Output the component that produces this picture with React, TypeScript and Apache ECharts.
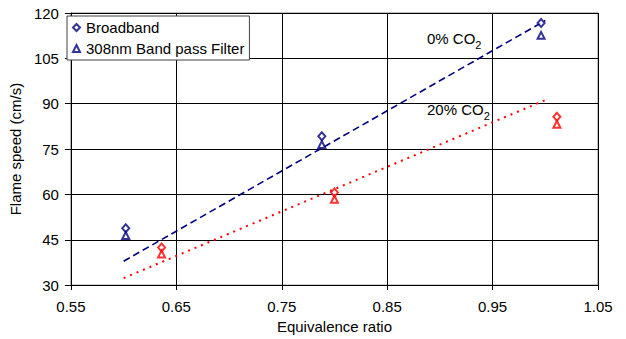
import React, { useEffect, useRef } from "react";
import * as echarts from "echarts";

const xTickLabels = ["0.55", "0.65", "0.75", "0.85", "0.95", "1.05"];
const yTickLabels = ["30", "45", "60", "75", "90", "105", "120"];

const phi0 = [0.602, 0.788, 0.996];
const broadband0 = [48.8, 79.2, 116.7];
const filter0 = [46.4, 76.5, 112.6];

const phi20 = [0.636, 0.8, 1.011];
const broadband20 = [42.4, 60.6, 85.7];
const filter20 = [40.3, 58.4, 83.2];

const trendX = [0.6, 1.0];
const trend0 = [37.9, 117.5];
const trend20 = [32.3, 91.2];

const NAVY = "#000080";
const RED = "#ff0000";
const FONT = "'Liberation Sans', Arial, sans-serif";

const pairs = (xs: number[], ys: number[]) => xs.map((x, i) => [x, ys[i]]);

export default function App() {
  const ref = useRef<HTMLDivElement>(null);
  useEffect(() => {
    document.body.style.margin = "0";
    const chart = echarts.init(ref.current!, null, { renderer: "svg" });
    const xMin = Number(xTickLabels[0]);
    const xMax = Number(xTickLabels[xTickLabels.length - 1]);
    const yMin = Number(yTickLabels[0]);
    const yMax = Number(yTickLabels[yTickLabels.length - 1]);
    const scatter = (name: string, xs: number[], ys: number[], symbol: string, color: string, size: number[]) => ({
      name,
      type: "scatter",
      data: pairs(xs, ys),
      symbol,
      symbolSize: size,
      itemStyle: { color, borderColor: color, borderWidth: 1 },
      z: 5,
    });
    const rich = {
      a: { fontSize: 15, lineHeight: 18, verticalAlign: "top", fill: "#000", fontFamily: FONT },
      s: { fontSize: 11, lineHeight: 12, padding: [8, 0, 0, 0], verticalAlign: "top", fill: "#000", fontFamily: FONT },
    };
    chart.setOption({
      animation: false,
      textStyle: { fontFamily: FONT },
      grid: {
        left: 65,
        right: 28,
        top: 13,
        bottom: 48,
        show: true,
        borderColor: "#808080",
        borderWidth: 1,
        backgroundColor: "transparent",
      },
      xAxis: {
        type: "value",
        min: xMin,
        max: xMax,
        interval: 0.1,
        name: "Equivalence ratio",
        nameLocation: "middle",
        nameGap: 28,
        nameTextStyle: { fontSize: 15, color: "#000", fontFamily: FONT },
        axisLine: { show: true, lineStyle: { color: "#000", width: 1 } },
        axisTick: { show: true, length: 5, lineStyle: { color: "#000" } },
        axisLabel: {
          fontSize: 15,
          color: "#000",
          margin: 14,
          fontFamily: FONT,
          formatter: (v: number) => v.toFixed(2),
        },
        splitLine: { show: true, lineStyle: { color: "#000", width: 1 } },
      },
      yAxis: {
        type: "value",
        min: yMin,
        max: yMax,
        interval: 15,
        name: "Flame speed (cm/s)",
        nameLocation: "middle",
        nameGap: 29,
        nameTextStyle: { fontSize: 15, color: "#000", fontFamily: FONT },
        axisLine: { show: true, lineStyle: { color: "#000", width: 1 } },
        axisTick: { show: true, length: 6, lineStyle: { color: "#000" } },
        axisLabel: { fontSize: 15, color: "#000", margin: 12, fontFamily: FONT },
        splitLine: { show: true, lineStyle: { color: "#000", width: 1 } },
      },
      legend: {
        orient: "vertical",
        left: 67,
        top: 16,
        data: ["Broadband", "308nm Band pass Filter"],
        backgroundColor: "#fff",
        borderColor: "#404040",
        borderWidth: 1,
        borderRadius: 0,
        padding: [4, 5, 4, 5],
        itemWidth: 7,
        itemHeight: 7,
        itemGap: 6,
        textStyle: { fontSize: 15, color: "#000", fontFamily: FONT, padding: [0, 0, 0, 1] },
      },
      graphic: [
        { type: "text", left: 427, top: 31, z: 10, style: { text: "{a|0% CO}{s|2}", rich } },
        { type: "text", left: 427, top: 102, z: 10, style: { text: "{a|20% CO}{s|2}", rich } },
      ],
      series: [
        {
          name: "Trend 0% CO2",
          type: "line",
          data: pairs(trendX, trend0),
          showSymbol: false,
          symbol: "none",
          lineStyle: { color: NAVY, width: 1.6, type: [7, 4] },
          z: 3,
        },
        {
          name: "Trend 20% CO2",
          type: "line",
          data: pairs(trendX, trend20),
          showSymbol: false,
          symbol: "none",
          lineStyle: { color: RED, width: 2, type: [2, 5] },
          z: 3,
        },
        scatter("Broadband", phi0, broadband0, "emptyDiamond", NAVY, [7, 8]),
        scatter("308nm Band pass Filter", phi0, filter0, "emptyTriangle", NAVY, [7, 7]),
        scatter("Broadband 20% CO2", phi20, broadband20, "emptyDiamond", RED, [7, 8]),
        scatter("308nm Band pass Filter 20% CO2", phi20, filter20, "emptyTriangle", RED, [7, 7]),
      ],
    });
    return () => chart.dispose();
  }, []);
  return <div ref={ref} style={{ width: 626, height: 339 }} />;
}
